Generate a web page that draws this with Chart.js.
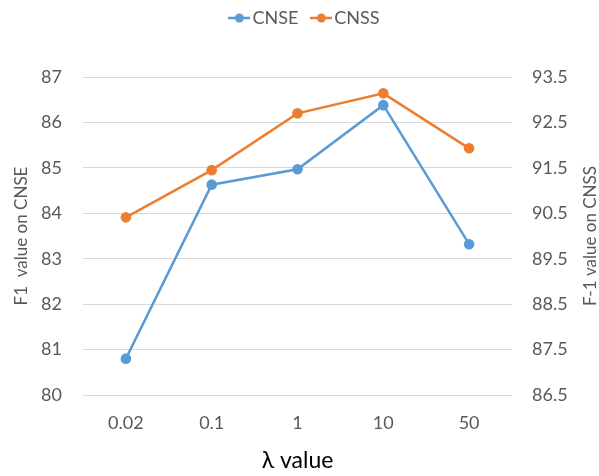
<!DOCTYPE html>
<html>
<head>
<meta charset="utf-8">
<script src="https://cdn.jsdelivr.net/npm/chart.js@4.4.1/dist/chart.umd.min.js"></script>
<style>
  html, body { margin: 0; padding: 0; background: #ffffff; }
  #wrap { width: 599px; height: 476px; position: relative; }
</style>
</head>
<body>
<div id="wrap"><canvas id="c" width="599" height="476"></canvas></div>
<script>
const categories = ['0.02', '0.1', '1', '10', '50'];
const cnseValues = [80.80, 84.63, 84.97, 86.38, 83.32];
const cnssValues = [90.41, 91.45, 92.70, 93.14, 91.93];
const leftTicks = [80, 81, 82, 83, 84, 85, 86, 87];
const rightTicks = [86.5, 87.5, 88.5, 89.5, 90.5, 91.5, 92.5, 93.5];
const seriesNames = ['CNSE', 'CNSS'];
const xTitle = 'λ value';
const leftTitle = 'F1  value on CNSE';
const rightTitle = 'F-1 value on CNSS';

const BLUE = '#5B9BD5';
const ORANGE = '#ED7D31';
const TEXT = '#595959';
const FONT = 'Lato, "Open Sans", sans-serif';

function marker(color) {
  const c = document.createElement('canvas');
  c.width = 22; c.height = 12;
  const g = c.getContext('2d');
  g.strokeStyle = color; g.lineWidth = 2.5;
  g.beginPath(); g.moveTo(0, 6); g.lineTo(22, 6); g.stroke();
  g.fillStyle = color;
  g.beginPath(); g.arc(11, 6, 4.5, 0, Math.PI * 2); g.fill();
  return c;
}
const markers = [marker(BLUE), marker(ORANGE)];

const legendTweak = {
  id: 'legendTweak',
  beforeInit(chart) {
    const lg = chart.legend;
    if (lg) {
      const origFit = lg.fit;
      lg.fit = function () { origFit.call(this); this.height = 77; };
      const origDraw = lg.draw;
      lg.draw = function () {
        const ctx = this.ctx;
        ctx.save();
        ctx.translate(8, -10);
        origDraw.call(this);
        ctx.restore();
      };
    }
  }
};

const rightTitlePlugin = {
  id: 'rightTitle',
  afterDraw(chart) {
    const ctx = chart.ctx;
    const a = chart.chartArea;
    ctx.save();
    ctx.translate(591, (a.top + a.bottom) / 2);
    ctx.rotate(-Math.PI / 2);
    ctx.font = '17px ' + FONT;
    ctx.fillStyle = TEXT;
    ctx.textAlign = 'center';
    ctx.textBaseline = 'middle';
    ctx.fillText(rightTitle, 0, 0);
    ctx.restore();
  }
};

new Chart(document.getElementById('c'), {
  type: 'line',
  data: {
    labels: categories,
    datasets: [
      {
        label: seriesNames[0], data: cnseValues, yAxisID: 'y',
        borderColor: BLUE, backgroundColor: BLUE, borderWidth: 2.5,
        pointRadius: 5.3, pointHoverRadius: 5.3, pointBackgroundColor: BLUE, pointBorderWidth: 0,
        tension: 0
      },
      {
        label: seriesNames[1], data: cnssValues, yAxisID: 'y1',
        borderColor: ORANGE, backgroundColor: ORANGE, borderWidth: 2.5,
        pointRadius: 5.3, pointHoverRadius: 5.3, pointBackgroundColor: ORANGE, pointBorderWidth: 0,
        tension: 0
      }
    ]
  },
  options: {
    responsive: false,
    animation: false,
    layout: { padding: 0 },
    plugins: {
      tooltip: { enabled: false },
      legend: {
        position: 'top',
        labels: {
          usePointStyle: true,
          pointStyleWidth: 8,
          padding: 19,
          color: TEXT,
          font: { family: FONT, size: 18 },
          generateLabels(chart) {
            return chart.data.datasets.map((ds, i) => ({
              text: ds.label,
              pointStyle: markers[i],
              fillStyle: ds.borderColor,
              strokeStyle: ds.borderColor,
              lineWidth: 0,
              fontColor: TEXT,
              hidden: false,
              datasetIndex: i
            }));
          }
        }
      }
    },
    scales: {
      x: {
        offset: true,
        grid: { display: false, drawTicks: false },
        border: { display: false },
        ticks: { color: TEXT, font: { family: FONT, size: 18 }, padding: 17, maxRotation: 0 },
        title: { display: true, text: xTitle, color: '#000000', font: { family: FONT, size: 23 }, padding: { top: 0, bottom: 2 } },
        afterFit(s) { s.height = 81; }
      },
      y: {
        position: 'left',
        min: 80, max: 87,
        afterBuildTicks(s) { s.ticks = leftTicks.map(v => ({ value: v })); },
        grid: { color: '#D9D9D9', lineWidth: 1, drawTicks: false },
        border: { display: false },
        ticks: { color: TEXT, font: { family: FONT, size: 18 }, padding: 21, callback: v => String(v) },
        title: { display: true, text: leftTitle, color: TEXT, font: { family: FONT, size: 17 }, padding: { top: 11, bottom: 0 } },
        afterFit(s) { s.width = 83; }
      },
      y1: {
        position: 'right',
        min: 86.5, max: 93.5,
        afterBuildTicks(s) { s.ticks = rightTicks.map(v => ({ value: v })); },
        grid: { display: false, drawTicks: false },
        border: { display: false },
        ticks: { color: TEXT, font: { family: FONT, size: 18 }, padding: 20, callback: v => Number(v).toFixed(1) },
        title: { display: false },
        afterFit(s) { s.width = 87; }
      }
    }
  },
  plugins: [legendTweak, rightTitlePlugin]
});
</script>
</body>
</html>
